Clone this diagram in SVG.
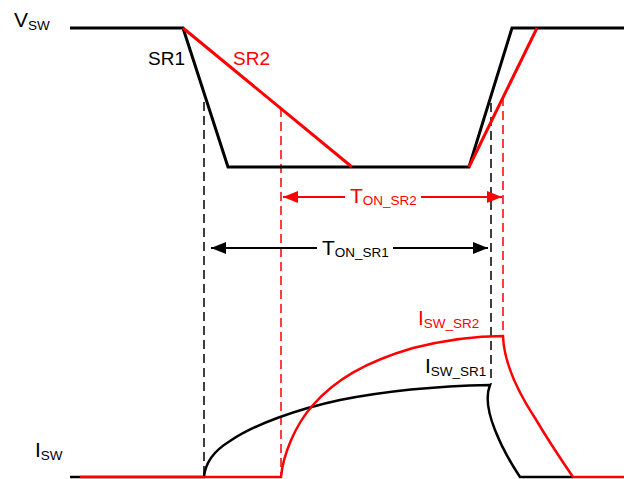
<svg xmlns="http://www.w3.org/2000/svg" width="624" height="479" viewBox="0 0 624 479">
<style>
.k{stroke:#000;fill:none}
.r{stroke:#f00;fill:none}
.w{stroke-width:3;stroke-linejoin:miter}
.c{stroke-width:2.5}
.d{stroke-width:1.5;stroke-dasharray:9,5}
.a{stroke-width:2}
text{font-family:"Liberation Sans",Arial,sans-serif;font-size:21px}
.s{font-size:13.5px}
.tk{fill:#000}
.tr{fill:#f00}
</style>
<defs>
<marker id="ak" viewBox="0 0 15 12" refX="15" refY="6" markerWidth="15" markerHeight="12" markerUnits="userSpaceOnUse" orient="auto"><path d="M0,0 L15,6 L0,12 z" fill="#000"/></marker>
<marker id="ar" viewBox="0 0 15 12" refX="15" refY="6" markerWidth="15" markerHeight="12" markerUnits="userSpaceOnUse" orient="auto"><path d="M0,0 L15,6 L0,12 z" fill="#f00"/></marker>
</defs>
<g id="guides">
<line class="k d" x1="204" y1="102" x2="204" y2="477"/>
<line class="r d" x1="281" y1="108" x2="281" y2="477"/>
<line class="k d" x1="491" y1="103" x2="491" y2="384"/>
<line class="r d" x1="503" y1="97" x2="503" y2="336"/>
</g>
<g id="vsw">
<path class="k w" d="M70,28 L183,28 L228,167 L469,167 L512,28 L624,28"/>
<path class="r w" d="M183,28 L352,167"/>
<path class="r w" d="M469,167 L537,28"/>
</g>
<g id="isw">
<path class="k c" d="M70,477 L204,477 C205,465 212,452 230,441 C255,424 298,409 340,400 C390,390 440,386 490,385 C486,395 487,410 495,430 C502,448 512,465 520,477 L573,477"/>
<path class="r c" d="M80,477 L281,477 C283,455 295,425 313,405 C335,380 365,362 413,348 C445,340 475,336 503,336 C504,365 520,395 535,418 C548,440 560,458 573,477 L624,477"/>
</g>
<g id="connectors">
<line class="r a" x1="345" y1="197" x2="283" y2="197" marker-end="url(#ar)"/>
<line class="r a" x1="421" y1="197" x2="502" y2="197" marker-end="url(#ar)"/>
<line class="k a" x1="317" y1="248" x2="211" y2="248" marker-end="url(#ak)"/>
<line class="k a" x1="393" y1="248" x2="488" y2="248" marker-end="url(#ak)"/>
</g>
<g id="labels">
<text class="tk" x="14" y="27">V<tspan class="s" dy="3">SW</tspan></text>
<text class="tk" x="148" y="65" style="font-size:19px">SR1</text>
<text class="tr" x="233" y="65" style="font-size:19px">SR2</text>
<text class="tr" x="350" y="203">T<tspan class="s" dy="2">ON_SR2</tspan></text>
<text class="tk" x="322" y="255">T<tspan class="s" dy="2">ON_SR1</tspan></text>
<text class="tr" x="418" y="325">I<tspan class="s" dy="3">SW_SR2</tspan></text>
<text class="tk" x="425" y="373">I<tspan class="s" dy="3">SW_SR1</tspan></text>
<text class="tk" x="35" y="457">I<tspan class="s" dy="3">SW</tspan></text>
</g>
</svg>
